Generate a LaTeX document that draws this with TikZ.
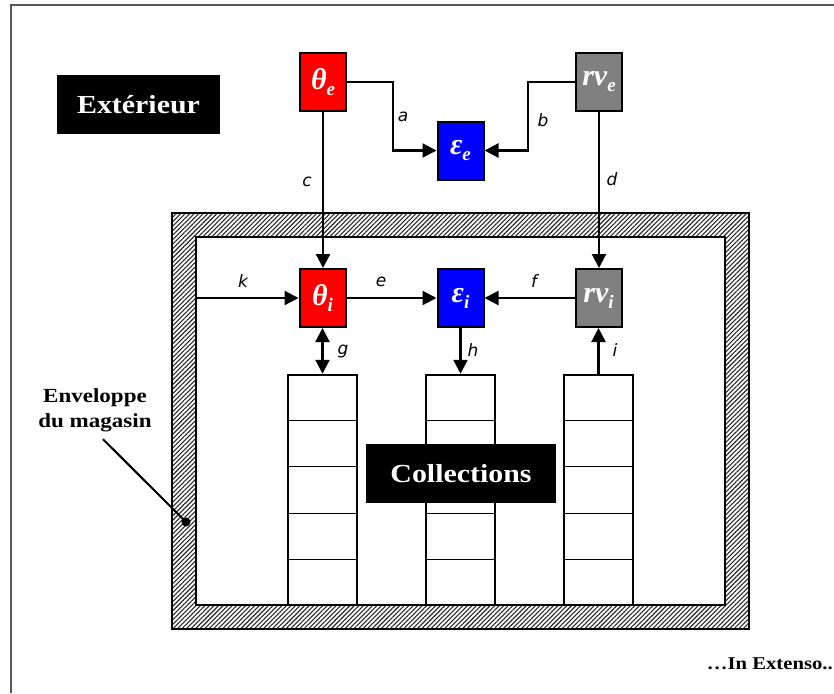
\documentclass[tikz,border=0pt]{standalone}
\usepackage{fontspec}
\setmainfont{Liberation Serif}
\newfontfamily\garfont[FakeStretch=1.15]{Liberation Serif}
\newfontfamily\lblfont{DejaVu Sans}
\usetikzlibrary{arrows.meta,patterns.meta,calc}
\newcommand{\vsym}[2]{{\fontsize{30}{30}\selectfont #1}{\fontsize{19}{19}\selectfont\raisebox{-6pt}{#2}}}
\tikzset{
  blackbox/.style={fill=black, text=white, inner sep=0pt, font=\garfont\bfseries\fontsize{26}{30}\selectfont},
  varbox/.style={draw=black, line width=2pt, minimum width=46pt, minimum height=58pt, inner sep=0pt, text=white, font=\bfseries\itshape},
  lbl/.style={font=\lblfont\itshape\fontsize{17}{17}\selectfont},
  arr/.style={line width=2.2pt, -{Triangle[length=14pt,width=14pt]}},
  darr/.style={line width=2.2pt, {Triangle[length=14pt,width=14pt]}-{Triangle[length=14pt,width=14pt]}},
  colbox/.style={draw=black, line width=2.5pt, fill=white, minimum width=69pt, minimum height=230pt, inner sep=0pt},
  cell/.style={line width=1.2pt},
  note/.style={font=\garfont\bfseries\fontsize{20}{25}\selectfont, align=center}
}
\begin{document}
\begin{tikzpicture}[x=1pt,y=-1pt]
\useasboundingbox (0,0) rectangle (834,693);
% page frame (left and top edges)
\draw[line width=2pt, black!65] (11,693) -- (11,5) -- (834,5);

% envelope of the store (hatched frame)
\fill[pattern={Lines[angle=45,distance=3.2pt,line width=1.1pt]}, pattern color=black!85, even odd rule]
  (172,213) rectangle (749,629) (196,237) rectangle (725,605);
\draw[line width=2.5pt] (172,213) rectangle (749,629);
\draw[line width=2.5pt] (196,237) rectangle (725,605);

% collections columns
\node[colbox] (c1) at (322.5,490) {};
\node[colbox] (c2) at (460.5,490) {};
\node[colbox] (c3) at (598.5,490) {};
\foreach \c in {c1,c2,c3}{
  \foreach \k in {1,2,3,4}{
    \draw[cell] ($(\c.north west)!\k/5!(\c.south west)$) -- ($(\c.north east)!\k/5!(\c.south east)$);
  }
}

% black labels
\node[blackbox, minimum width=163pt, minimum height=59pt] (ext) at (138.5,104.5) {Extérieur};
\node[blackbox, minimum width=190pt, minimum height=59pt] (coll) at (461,473.5) {Collections};

% variable boxes
\node[varbox, fill=red] (te) at (323,82) {\vsym{θ}{e}};
\node[varbox, fill=blue] (ee) at (460.5,150.5) {\vsym{ε}{e}};
\node[varbox, fill=black!50] (rve) at (599,82) {\vsym{rv}{e}};
\node[varbox, fill=red] (ti) at (322.5,298) {\vsym{θ}{i}};
\node[varbox, fill=blue] (ei) at (460.5,298) {\vsym{ε}{i}};
\node[varbox, fill=black!50] (rvi) at (598.5,298) {\vsym{rv}{i}};

% connectors
\draw[arr] (te.east) -- ++(46,0) |- (ee.west);
\draw[arr] (rve.west) -- ++(-47,0) |- (ee.east);
\draw[arr] (te.south) -- (te.south |- ti.north);
\draw[arr] (rve.south) -- (rve.south |- rvi.north);
\coordinate (kin) at (196,298);
\draw[arr] (kin) -- (ti.west);
\draw[arr] (ti.east) -- (ei.west);
\draw[arr] (rvi.west) -- (ei.east);
\draw[darr] (ti.south) -- (c1.north);
\draw[arr] (ei.south) -- (c2.north);
\draw[arr] (c3.north) -- (rvi.south);

% connector labels
\node[lbl] at (403,117) {a};
\node[lbl] at (543,120) {b};
\node[lbl] at (307,182) {c};
\node[lbl] at (612,179) {d};
\node[lbl] at (243,281) {k};
\node[lbl] at (381,282) {e};
\node[lbl] at (534,281) {f};
\node[lbl] at (343,352) {g};
\node[lbl] at (473,350) {h};
\node[lbl] at (615,350) {i};

% envelope annotation
\node[note] (env) at (95,410) {Enveloppe\\du magasin};
\coordinate (envdot) at (186,522);
\fill (envdot) circle (4.5pt);
\draw[line width=2pt] ($(env.south)+(8,4)$) -- (envdot);

% footer
\node[anchor=east, font=\garfont\bfseries\fontsize{18}{20}\selectfont, inner sep=0pt] (foot) at (833,664) {…In Extenso..};
\end{tikzpicture}
\end{document}
